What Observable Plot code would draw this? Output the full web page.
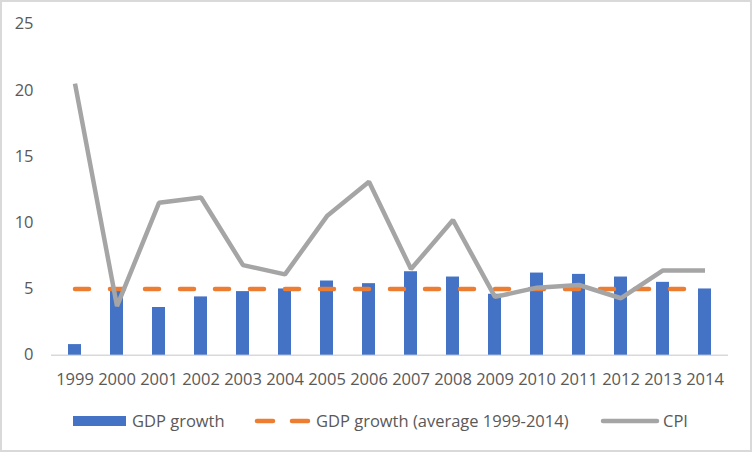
<!DOCTYPE html>
<html>
<head>
<meta charset="utf-8">
<script src="https://cdn.jsdelivr.net/npm/d3@7"></script>
<script src="https://cdn.jsdelivr.net/npm/@observablehq/plot@0.6"></script>
<style>
  html, body { margin: 0; padding: 0; background: #fff; }
  #wrap { position: relative; width: 752px; height: 452px; overflow: hidden; background: #fff; font-family: "Open Sans", sans-serif; }
  #chart { position: absolute; left: 0; top: 0; }
  #legend { position: absolute; left: 0; top: 390px; }
  #frame { position: absolute; left: 0; top: 0; width: 752px; height: 452px; box-sizing: border-box; border: 2px solid #d9d9d9; pointer-events: none; }
</style>
</head>
<body>
<div id="wrap">
  <div id="chart"></div>
  <svg id="legend" width="752" height="62"></svg>
  <div id="frame"></div>
</div>
<script>
const years = ["1999","2000","2001","2002","2003","2004","2005","2006","2007","2008","2009","2010","2011","2012","2013","2014"];
const gdpGrowth = [0.8, 5.0, 3.6, 4.4, 4.8, 5.0, 5.6, 5.4, 6.3, 5.9, 4.6, 6.2, 6.1, 5.9, 5.5, 5.0];
const cpi = [20.5, 3.7, 11.5, 11.9, 6.8, 6.1, 10.5, 13.1, 6.5, 10.2, 4.4, 5.1, 5.3, 4.3, 6.4, 6.4];
const gdpAverage = 5.0;
const yTicks = [0, 5, 10, 15, 20, 25];
const seriesNames = ["GDP growth", "GDP growth (average 1999-2014)", "CPI"];
const colors = {bar: "#4472C4", avg: "#ED7D31", cpi: "#A5A5A5"};

const rows = years.map((y, i) => ({year: y, gdp: gdpGrowth[i], cpi: cpi[i], avg: gdpAverage}));
const FS = 16.5;

const chart = Plot.plot({
  width: 752,
  height: 390,
  marginLeft: 51,
  marginRight: 24,
  marginTop: 23.5,
  marginBottom: 35.3,
  style: {fontFamily: "Open Sans, sans-serif", fontSize: FS + "px", color: "#595959", background: "transparent"},
  x: {domain: years, paddingInner: 0.69, paddingOuter: 0.345, align: 0.5, label: null},
  y: {domain: [0, 25], label: null},
  marks: [
    Plot.ruleY([0], {stroke: "#d9d9d9", strokeWidth: 1.5}),
    Plot.barY(rows, {x: "year", y: "gdp", fill: colors.bar}),
    Plot.lineY(rows, {x: "year", y: "avg", stroke: colors.avg, strokeWidth: 4.5, strokeDasharray: "14,21", strokeLinecap: "round"}),
    Plot.lineY(rows, {x: "year", y: "cpi", stroke: colors.cpi, strokeWidth: 4.5, strokeLinejoin: "miter", strokeLinecap: "butt"}),
    Plot.axisX({tickSize: 0, tickPadding: 18.5, fill: "#595959", fontSize: FS}),
    Plot.axisY({ticks: yTicks, tickSize: 0, tickPadding: 18, fill: "#595959", fontSize: FS})
  ]
});
document.getElementById("chart").appendChild(chart);

// Legend
const lg = d3.select("#legend");
const ly = 31;
const font = FS + "px 'Open Sans', sans-serif";
lg.append("rect").attr("x", 73).attr("y", ly - 5).attr("width", 53).attr("height", 10).attr("fill", colors.bar);
lg.append("text").attr("x", 132).attr("y", ly).attr("dy", "0.35em").attr("fill", "#595959")
  .style("font", font).text(seriesNames[0]);
lg.append("line").attr("x1", 257).attr("x2", 308).attr("y1", ly).attr("y2", ly)
  .attr("stroke", colors.avg).attr("stroke-width", 4.5).attr("stroke-dasharray", "16,19").attr("stroke-linecap", "round");
lg.append("text").attr("x", 316).attr("y", ly).attr("dy", "0.35em").attr("fill", "#595959")
  .style("font", font).text(seriesNames[1]);
lg.append("line").attr("x1", 603).attr("x2", 657).attr("y1", ly).attr("y2", ly)
  .attr("stroke", colors.cpi).attr("stroke-width", 4.5).attr("stroke-linecap", "round");
lg.append("text").attr("x", 663).attr("y", ly).attr("dy", "0.35em").attr("fill", "#595959")
  .style("font", font).text(seriesNames[2]);
</script>
</body>
</html>
